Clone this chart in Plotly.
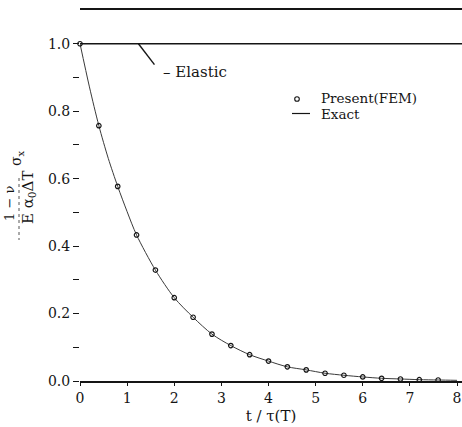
import plotly.graph_objects as go

# Normalised thermal stress versus dimensionless time
fem_t = [0, 0.4, 0.8, 1.2, 1.6, 2.0, 2.4, 2.8, 3.2, 3.6, 4.0, 4.4, 4.8,
         5.2, 5.6, 6.0, 6.4, 6.8, 7.2, 7.6]
fem_s = [1.0, 0.757, 0.577, 0.433, 0.329, 0.247, 0.189, 0.139, 0.105, 0.078,
         0.059, 0.042, 0.033, 0.023, 0.017, 0.012, 0.008, 0.006, 0.004, 0.003]

exact_t = [0, 0.2, 0.4, 0.6, 0.8, 1.0, 1.2, 1.6, 2.0, 2.4, 2.8, 3.2, 3.6,
           4.0, 4.4, 4.8, 5.2, 5.6, 6.0, 6.4, 6.8, 7.2, 7.6, 8.0]
exact_s = [1.0, 0.872, 0.757, 0.66, 0.577, 0.502, 0.433, 0.329, 0.247, 0.189,
           0.139, 0.105, 0.078, 0.059, 0.042, 0.033, 0.023, 0.017, 0.012,
           0.008, 0.006, 0.004, 0.003, 0.002]

elastic_t = [0, 8.106]
elastic_s = [1.0, 1.0]

x_ticks = [0, 1, 2, 3, 4, 5, 6, 7, 8]
y_ticks = [0.0, 0.2, 0.4, 0.6, 0.8, 1.0]

INK = "#151515"
SERIF = "DejaVu Serif"

fig = go.Figure()

fig.add_trace(go.Scatter(
    x=elastic_t, y=elastic_s, mode="lines",
    line=dict(color=INK, width=1.6), showlegend=False, cliponaxis=False,
))
fig.add_trace(go.Scatter(
    x=exact_t, y=exact_s, mode="lines", name="Exact",
    line=dict(color="#3a3a3a", width=1, shape="spline", smoothing=0.8),
    showlegend=False,
))
fig.add_trace(go.Scatter(
    x=fem_t, y=fem_s, mode="markers", name="Present(FEM)",
    marker=dict(symbol="circle-open", size=4.5, color=INK, line=dict(width=1.2)),
    showlegend=False, cliponaxis=False,
))

# plot-area geometry in pixels (for placing items outside the axes)
L, R, T, B = 80, 462, 10, 381
def px(x):
    return (x - L) / (R - L)
def py(y):
    return (B - y) / (B - T)

shapes = []
annotations = []

# leader line for the elastic label
shapes.append(dict(type="line", xref="x", yref="y",
                   x0=1.24, y0=1.0, x1=1.58, y1=0.938,
                   line=dict(color=INK, width=1.4)))
annotations.append(dict(xref="x", yref="y", x=1.72, y=0.917,
                        xanchor="left", yanchor="middle", showarrow=False,
                        text="– Elastic", font=dict(family=SERIF, size=15, color=INK)))

# legend block
shapes.append(dict(type="circle", xref="paper", yref="paper",
                   xsizemode="pixel", ysizemode="pixel",
                   xanchor=px(297), yanchor=py(99),
                   x0=-2.3, x1=2.3, y0=-2.3, y1=2.3,
                   line=dict(color=INK, width=1.1)))
shapes.append(dict(type="line", xref="paper", yref="paper",
                   x0=px(292), x1=px(310), y0=py(113.5), y1=py(113.5),
                   line=dict(color=INK, width=1.2)))
annotations.append(dict(xref="paper", yref="paper", x=px(319), y=py(98),
                        xanchor="left", yanchor="middle", showarrow=False,
                        text="Present(FEM)", font=dict(family=SERIF, size=13.5, color=INK)))
annotations.append(dict(xref="paper", yref="paper", x=px(319), y=py(114),
                        xanchor="left", yanchor="middle", showarrow=False,
                        text="Exact", font=dict(family=SERIF, size=13.5, color=INK)))

# y-axis label written as a stacked fraction, rotated
annotations.append(dict(xref="paper", yref="paper", x=px(9), y=py(204),
                        xanchor="center", yanchor="middle", showarrow=False,
                        textangle=-90, text="1 − ν",
                        font=dict(family=SERIF, size=13, color=INK)))
shapes.append(dict(type="line", xref="paper", yref="paper",
                   x0=px(19), x1=px(19), y0=py(178), y1=py(240),
                   line=dict(color="#555555", width=1, dash="dot")))
annotations.append(dict(xref="paper", yref="paper", x=px(29), y=py(198),
                        xanchor="center", yanchor="middle", showarrow=False,
                        textangle=-90, text="E α<sub>0</sub>ΔT",
                        font=dict(family=SERIF, size=15, color=INK)))
annotations.append(dict(xref="paper", yref="paper", x=px(17), y=py(158),
                        xanchor="center", yanchor="middle", showarrow=False,
                        textangle=-90, text="σ<sub>x</sub>",
                        font=dict(family=SERIF, size=14, color=INK)))

fig.update_layout(
    width=462, height=427,
    margin=dict(l=L, r=462 - R, t=T, b=427 - B),
    paper_bgcolor="white", plot_bgcolor="white",
    showlegend=False,
    font=dict(family=SERIF, size=14, color=INK),
    shapes=shapes, annotations=annotations,
    xaxis=dict(
        range=[0, 8.106], tickvals=x_ticks, ticktext=[str(v) for v in x_ticks],
        showgrid=False, zeroline=False,
        showline=True, linecolor=INK, linewidth=2, mirror=True,
        ticks="outside", ticklen=3, tickcolor=INK,
        tickfont=dict(family=SERIF, size=14, color=INK),
        title=dict(text="t / τ(T)", font=dict(family=SERIF, size=15, color=INK),
                   standoff=6),
    ),
    yaxis=dict(
        range=[0, 1.1], tickvals=y_ticks, ticktext=[f"{v:.1f}" for v in y_ticks],
        showgrid=False, zeroline=False, showline=False,
        ticks="outside", ticklen=6, tickcolor=INK, tickwidth=1,
        minor=dict(tickvals=[0.1, 0.3, 0.5, 0.7, 0.9], ticks="outside",
                   ticklen=6, tickcolor=INK),
        tickfont=dict(family=SERIF, size=14, color=INK),
    ),
)

fig.write_html("out.html")
